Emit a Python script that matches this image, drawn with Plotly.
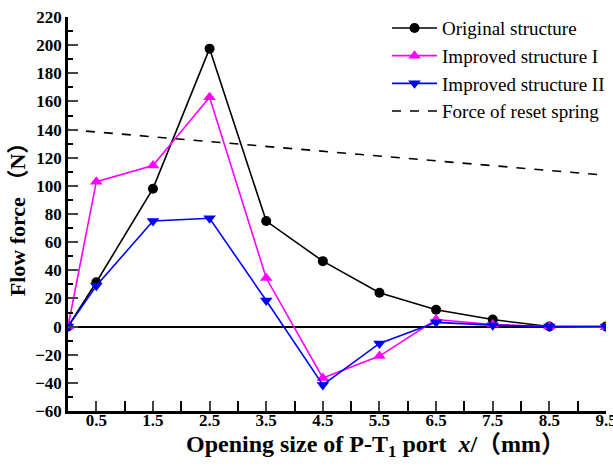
import plotly.graph_objects as go

x = [0, 0.5, 1.5, 2.5, 3.5, 4.5, 5.5, 6.5, 7.5, 8.5, 9.5]
original = [0, 31.5, 98, 197.5, 75, 46.5, 24, 12, 5, 0, 0]
improved1 = [0, 103, 114.5, 163, 34.5, -36.5, -21, 5, 1.5, 0, -0.5]
improved2 = [0, 29, 75, 77, 18.5, -41.5, -12, 3, 1, 0, 0]
spring_x = [0, 9.5]
spring_y = [140, 107.5]
x_ticks = [0.5, 1.5, 2.5, 3.5, 4.5, 5.5, 6.5, 7.5, 8.5, 9.5]

FONT = "Liberation Serif, Noto Sans CJK SC"

fig = go.Figure()
fig.add_trace(go.Scatter(x=x, y=original, name="Original structure", mode="lines+markers",
                         line=dict(color="black", width=1.6),
                         marker=dict(symbol="circle", size=10, color="black")))
fig.add_trace(go.Scatter(x=x, y=improved1, name="Improved structure I", mode="lines+markers",
                         line=dict(color="#ff00ff", width=1.6),
                         marker=dict(symbol="triangle-up", size=11, color="#ff00ff")))
fig.add_trace(go.Scatter(x=x, y=improved2, name="Improved structure II", mode="lines+markers",
                         line=dict(color="#0000ff", width=1.6),
                         marker=dict(symbol="triangle-down", size=11, color="#0000ff")))
fig.add_trace(go.Scatter(x=spring_x, y=spring_y, name="Force of reset spring", mode="lines",
                         line=dict(color="black", width=1.6, dash="dash")))

fig.update_layout(
    width=613, height=467,
    margin=dict(l=68, r=7, t=17, b=56, autoexpand=False),
    plot_bgcolor="white", paper_bgcolor="white",
    font=dict(family=FONT, color="black"),
    showlegend=True,
    legend=dict(x=0.593, y=1.02, xanchor="left", yanchor="top",
                bgcolor="rgba(0,0,0,0)", font=dict(family=FONT, size=19),
                tracegroupgap=0, itemwidth=45),
    annotations=[dict(text="Opening size of P-T<sub>1</sub> port  <i>x</i>/（mm）",
                      xref="paper", yref="paper", x=0.571, y=-0.089,
                      xanchor="center", yanchor="middle", showarrow=False,
                      font=dict(family=FONT, size=24, weight="bold"))],
)
fig.update_xaxes(
    range=[0, 9.5], tickvals=x_ticks, ticks="inside", ticklen=10, tickwidth=2,
    showline=True, linecolor="black", linewidth=2.5, showgrid=False, zeroline=False,
    ticklabeloverflow="allow", automargin=False, ticklabelstandoff=-8,
    tickfont=dict(family=FONT, size=17, weight="bold"),
    minor=dict(dtick=1, tick0=0, ticks="inside", ticklen=10, tickwidth=2, tickcolor="black", showgrid=False),
)
fig.update_yaxes(
    range=[-60, 220], dtick=20, ticks="inside", ticklen=10, tickwidth=2,
    showline=True, linecolor="black", linewidth=2.5, showgrid=False,
    zeroline=True, zerolinecolor="black", zerolinewidth=2, automargin=False,
    tickfont=dict(family=FONT, size=17, weight="bold"),
    minor=dict(dtick=10, ticks="inside", ticklen=5, tickwidth=2, tickcolor="black", showgrid=False),
    title=dict(text="Flow force （N）", font=dict(family=FONT, size=22, weight="bold"), standoff=4),
)

fig.write_html("out.html")
